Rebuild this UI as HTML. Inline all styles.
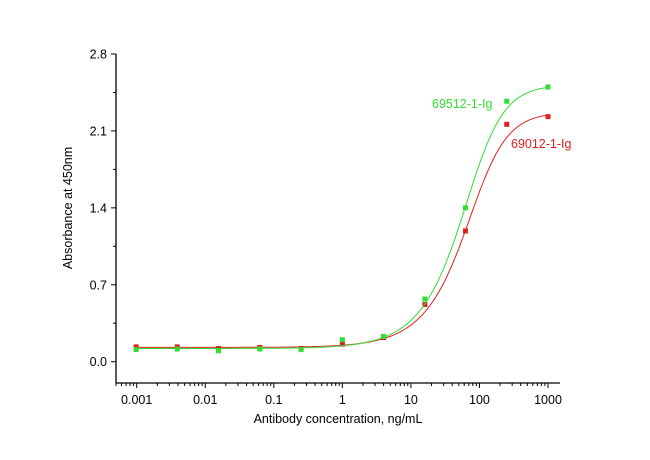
<!DOCTYPE html>
<html><head><meta charset="utf-8"><style>
body{margin:0;background:#fff;}
svg{display:block;font-family:"Liberation Sans",Arial,sans-serif;}
</style></head><body>
<svg id="chart" width="650" height="460"></svg>
<script>
const concentrations=[0.00098,0.0039,0.0156,0.0625,0.25,1,4,16,62.5,250,1000];
const greenValues=[0.11,0.115,0.10,0.115,0.11,0.20,0.23,0.57,1.40,2.37,2.50];
const redValues=[0.135,0.135,0.12,0.13,0.12,0.16,0.22,0.52,1.19,2.16,2.23];
const greenFit=[0.12,2.52,88.6,1.7,0.6];
const redFit=[0.13,2.27,99.5,1.7,0.6];
const yTicks=[0.0,0.7,1.4,2.1,2.8];
const yTickLabels=["0.0","0.7","1.4","2.1","2.8"];
const xTicks=[0.001,0.01,0.1,1,10,100,1000];
const xTickLabels=["0.001","0.01","0.1","1","10","100","1000"];

const NS="http://www.w3.org/2000/svg";
const svg=document.getElementById('chart');
const X0=116,X1=560,YB=383,YT=54;
function xs(v){return 136.7+(Math.log10(v)+3)*68.55;}
function ys(v){return 361.7-v*(307.7/2.8);}
function mk(t,a){const e=document.createElementNS(NS,t);for(const k in a)e.setAttribute(k,a[k]);svg.appendChild(e);return e;}

let e;
e=mk('line',{x1:X0,y1:YT,x2:X0,y2:YB,stroke:'#000','stroke-width':1.3});


e=mk('line',{x1:X0,y1:YB,x2:X1,y2:YB,stroke:'#000','stroke-width':1.3});



yTicks.forEach((v,i)=>{
  const y=ys(v);
  mk('line',{x1:X0-5,y1:y,x2:X0,y2:y,stroke:'#000','stroke-width':1});
  if(i<yTicks.length-1){const ym=ys(v+0.35);mk('line',{x1:X0-3,y1:ym,x2:X0,y2:ym,stroke:'#000','stroke-width':1});}
  const t=mk('text',{x:X0-9,y:y+4.5,'text-anchor':'end','font-size':12.5,fill:'#000'});
  t.textContent=yTickLabels[i];
  
  
});
xTicks.forEach((v,i)=>{
  const x=xs(v);
  mk('line',{x1:x,y1:YB,x2:x,y2:YB+5,stroke:'#000','stroke-width':1});
  const t=mk('text',{x:x,y:YB+21,'text-anchor':'middle','font-size':12.5,fill:'#000'});
  t.textContent=xTickLabels[i];
  
  
});
for(let d=-4;d<=3;d++){for(let m=2;m<=9;m++){const v=m*Math.pow(10,d);const x=xs(v);if(x>X0&&x<X1)mk('line',{x1:x,y1:YB,x2:x,y2:YB+3,stroke:'#000','stroke-width':1});}}

let t=mk('text',{x:338,y:423,'text-anchor':'middle','font-size':12.5,fill:'#000'});
t.textContent='Antibody concentration, ng/mL';


t=mk('text',{x:0,y:0,'text-anchor':'middle','font-size':12.5,fill:'#000',transform:'translate(72,208) rotate(-90)'});
t.textContent='Absorbance at 450nm';



function fit(p,x){const q=Math.pow(p[2]/x,p[3]);return p[0]+(p[1]-p[0])/Math.pow(1+q,p[4]);}
function drawSeries(vals,p,col,name){
  let d='';
  for(let i=0;i<=300;i++){const lx=Math.log10(concentrations[0])+i*(Math.log10(1000)-Math.log10(concentrations[0]))/300;const x=Math.pow(10,lx);d+=(i?'L':'M')+xs(x).toFixed(1)+','+ys(fit(p,x)).toFixed(1);}
  const c=mk('path',{d:d,fill:'none',stroke:col,'stroke-width':1});
  
  
  vals.forEach((v,i)=>{
    const r=mk('rect',{x:xs(concentrations[i])-2.5,y:ys(v)-2.5,width:5,height:5,fill:col});
    
    
  });
}
drawSeries(redValues,redFit,'#e02020','series-69012');
drawSeries(greenValues,greenFit,'#33dd33','series-69512');

t=mk('text',{x:432,y:108,'font-size':12.5,fill:'#33dd33'});
t.textContent='69512-1-Ig';


t=mk('text',{x:511,y:148,'font-size':12.5,fill:'#e02020'});
t.textContent='69012-1-Ig';


</script>
</body></html>
